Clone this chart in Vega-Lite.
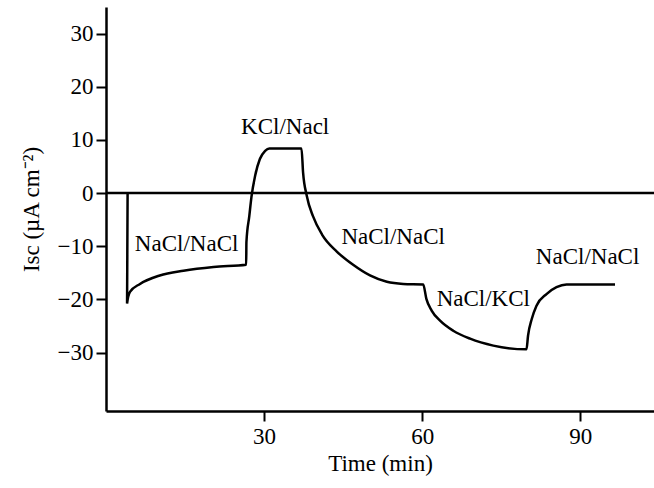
{
  "$schema": "https://vega.github.io/schema/vega-lite/v6.json",
  "width": 548,
  "height": 404,
  "autosize": {"type": "none"},
  "padding": {"left": 106, "top": 7, "right": 0, "bottom": 77},
  "background": "white",
  "config": {
    "view": {"stroke": null},
    "font": "Liberation Serif",
    "axis": {
      "grid": false,
      "domainColor": "black",
      "domainWidth": 2.5,
      "tickColor": "black",
      "tickWidth": 2,
      "tickSize": 10,
      "labelColor": "black",
      "labelFont": "Liberation Serif",
      "labelFontSize": 23,
      "titleColor": "black",
      "titleFont": "Liberation Serif",
      "titleFontSize": 23,
      "titleFontWeight": "normal"
    }
  },
  "layer": [
    {
      "data": {"values": [{"y": 0}]},
      "mark": {"type": "rule", "color": "black", "strokeWidth": 2.5},
      "encoding": {
        "y": {"field": "y", "type": "quantitative", "scale": {"domain": [-41, 35]}}
      }
    },
    {
      "data": {"values": [
        {"t": 4.1, "v": 0},
        {"t": 4.0, "v": -20.8},
        {"t": 4.55, "v": -18.6},
        {"t": 6.45, "v": -17.1},
        {"t": 10.2, "v": -15.5},
        {"t": 14.7, "v": -14.6},
        {"t": 20.4, "v": -13.9},
        {"t": 26.6, "v": -13.5},
        {"t": 26.65, "v": -9.2},
        {"t": 27.2, "v": -4.3},
        {"t": 27.6, "v": -0.75},
        {"t": 28.3, "v": 3.25},
        {"t": 29.2, "v": 6.4},
        {"t": 30.2, "v": 7.95},
        {"t": 31.0, "v": 8.4},
        {"t": 37.1, "v": 8.4},
        {"t": 37.4, "v": 3.9},
        {"t": 38.1, "v": -0.5},
        {"t": 39.3, "v": -4.4},
        {"t": 41.0, "v": -7.8},
        {"t": 43.8, "v": -11.0},
        {"t": 46.9, "v": -13.5},
        {"t": 50.1, "v": -15.5},
        {"t": 53.3, "v": -16.7},
        {"t": 56.4, "v": -17.1},
        {"t": 60.2, "v": -17.2},
        {"t": 60.8, "v": -19.9},
        {"t": 61.8, "v": -22.1},
        {"t": 63.4, "v": -24.0},
        {"t": 65.9, "v": -25.9},
        {"t": 69.1, "v": -27.4},
        {"t": 73.5, "v": -28.7},
        {"t": 79.8, "v": -29.4},
        {"t": 80.1, "v": -26.8},
        {"t": 80.8, "v": -23.7},
        {"t": 81.7, "v": -21.2},
        {"t": 83.6, "v": -19.0},
        {"t": 85.5, "v": -17.7},
        {"t": 87.4, "v": -17.2},
        {"t": 96.6, "v": -17.2}
      ]},
      "mark": {"type": "line", "color": "black", "strokeWidth": 2.5, "interpolate": "monotone"},
      "encoding": {
        "x": {
          "field": "t", "type": "quantitative",
          "scale": {"domain": [0, 104], "nice": false},
          "axis": {"values": [30, 60, 90], "title": "Time (min)", "labelPadding": 4, "titlePadding": 4}
        },
        "y": {
          "field": "v", "type": "quantitative",
          "scale": {"domain": [-41, 35], "nice": false},
          "axis": {"values": [-30, -20, -10, 0, 10, 20, 30], "title": "Isc (µA cm⁻²)", "labelPadding": 3, "titlePadding": 14}
        },
        "order": {"value": null}
      }
    },
    {
      "data": {"values": [
        {"t": 15.3, "v": -9.6, "label": "NaCl/NaCl"},
        {"t": 34.0, "v": 12.4, "label": "KCl/Nacl"},
        {"t": 54.5, "v": -8.3, "label": "NaCl/NaCl"},
        {"t": 71.6, "v": -19.9, "label": "NaCl/KCl"},
        {"t": 91.4, "v": -12.0, "label": "NaCl/NaCl"}
      ]},
      "mark": {"type": "text", "font": "Liberation Serif", "fontSize": 23, "color": "black", "align": "center", "baseline": "middle"},
      "encoding": {
        "x": {"field": "t", "type": "quantitative"},
        "y": {"field": "v", "type": "quantitative"},
        "text": {"field": "label"}
      }
    }
  ]
}
